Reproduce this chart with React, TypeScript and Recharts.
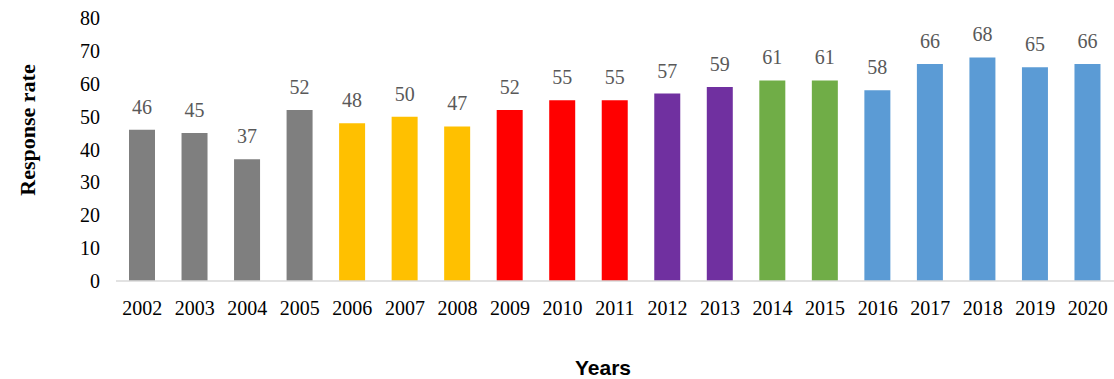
import { BarChart, Bar, XAxis, YAxis, Cell, LabelList } from "recharts";

const years = [
  "2002", "2003", "2004", "2005", "2006", "2007", "2008", "2009", "2010", "2011",
  "2012", "2013", "2014", "2015", "2016", "2017", "2018", "2019", "2020",
];
const responseRate = [46, 45, 37, 52, 48, 50, 47, 52, 55, 55, 57, 59, 61, 61, 58, 66, 68, 65, 66];
const barColors = [
  "#7F7F7F", "#7F7F7F", "#7F7F7F", "#7F7F7F",
  "#FFC000", "#FFC000", "#FFC000",
  "#FF0000", "#FF0000", "#FF0000",
  "#7030A0", "#7030A0",
  "#70AD47", "#70AD47",
  "#5B9BD5", "#5B9BD5", "#5B9BD5", "#5B9BD5", "#5B9BD5",
];
const yTicks = [0, 10, 20, 30, 40, 50, 60, 70, 80];

const data = years.map((year, i) => ({ year, rate: responseRate[i], fill: barColors[i] }));

const serif = "'Liberation Serif', 'Times New Roman', serif";

// value label above each bar, drawn in the serif face
const renderValue = (props: any) => {
  const { x, y, width, value } = props;
  return (
    <text
      x={Number(x) + Number(width) / 2}
      y={Number(y) - 16}
      textAnchor="middle"
      fill="#595959"
      fontSize={20}
      fontFamily={serif}
    >
      {value}
    </text>
  );
};

export default function App() {
  return (
    <div
      style={{
        position: "absolute",
        left: 0,
        top: 0,
        width: 1114,
        height: 379,
        background: "#fff",
        fontFamily: serif,
      }}
    >
      <BarChart
        width={1114}
        height={379}
        data={data}
        margin={{ top: 18, right: 0, left: 0, bottom: 0 }}
      >
        <XAxis
          dataKey="year"
          height={98}
          tickLine={false}
          tickMargin={14}
          axisLine={{ stroke: "#D9D9D9", strokeWidth: 1.5 }}
          tick={{ fill: "#000", fontSize: 20, fontFamily: serif }}
          interval={0}
        />
        <YAxis
          width={116}
          domain={[0, 80]}
          ticks={yTicks}
          tickLine={false}
          tickMargin={10}
          axisLine={false}
          tick={{ fill: "#000", fontSize: 20, fontFamily: serif }}
        />
        <Bar dataKey="rate" barSize={26} isAnimationActive={false}>
          {data.map((d) => (
            <Cell key={d.year} fill={d.fill} />
          ))}
          <LabelList dataKey="rate" content={renderValue} />
        </Bar>
      </BarChart>
      <div
        style={{
          position: "absolute",
          left: 28,
          top: 130,
          transform: "translate(-50%, -50%) rotate(-90deg)",
          fontFamily: serif,
          fontWeight: "bold",
          fontSize: 22,
          whiteSpace: "nowrap",
          color: "#000",
        }}
      >
        Response rate
      </div>
      <div
        style={{
          position: "absolute",
          left: 603,
          top: 357,
          transform: "translateX(-50%)",
          fontFamily: "'Liberation Sans', Arial, sans-serif",
          fontWeight: "bold",
          fontSize: 21,
          lineHeight: "22px",
          whiteSpace: "nowrap",
          color: "#000",
        }}
      >
        Years
      </div>
    </div>
  );
}
